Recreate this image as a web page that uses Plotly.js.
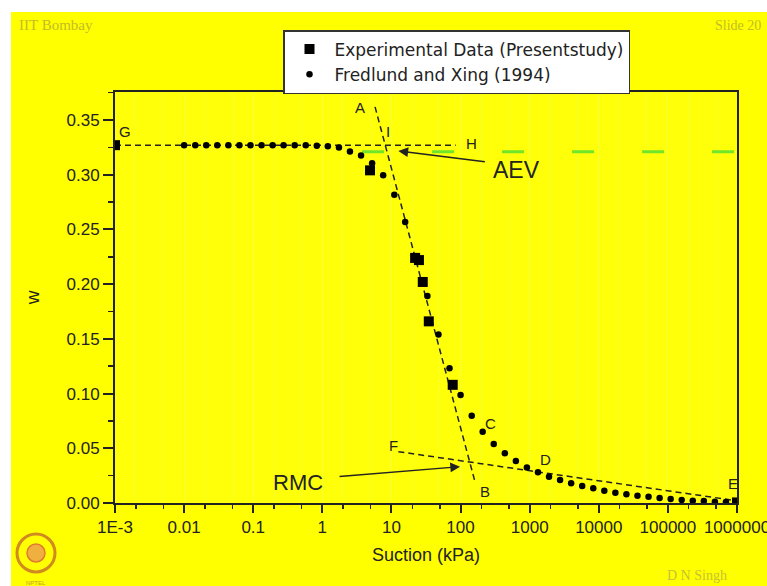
<!DOCTYPE html>
<html>
<head>
<meta charset="utf-8">
<script src="https://cdn.plot.ly/plotly-3.0.1.min.js"></script>
<style>
  html, body { margin:0; padding:0; background:#ffffff; width:767px; height:586px; overflow:hidden; }
  #chart { position:absolute; left:11px; top:12px; width:756px; height:574px; }
</style>
</head>
<body>
<div id="chart"></div>
<script>
// ---- data ----
const fredX = [0.01,0.0145,0.0209,0.0302,0.0437,0.0631,0.0912,0.132,0.191,0.275,0.398,0.575,0.832,1.20,1.74,2.51,3.63,5.25,7.59,11.0,15.8,22.9,33.1,47.9,69.2,100,145,209,302,437,631,912,1318,1905,2754,3981,5754,8318,12023,17378,25119,36308,52481,75858,109648,158489,229087,331131,478630,691831,1000000];
const fredW = [0.327,0.327,0.327,0.327,0.327,0.327,0.327,0.327,0.327,0.327,0.327,0.327,0.3265,0.326,0.3248,0.3213,0.3175,0.3105,0.2995,0.2818,0.2569,0.225,0.1892,0.154,0.1231,0.0987,0.0798,0.0652,0.0539,0.0454,0.0384,0.0325,0.0281,0.0240,0.0210,0.0180,0.0155,0.0134,0.0112,0.0094,0.0080,0.0067,0.0058,0.0046,0.0037,0.0027,0.0021,0.0018,0.0012,0.0009,0.0003];
const expX = [0.001, 4.9, 22, 25, 28.4, 34.7, 77, 1000000];
const expW = [0.327, 0.304, 0.224, 0.222, 0.202, 0.166, 0.108, 0.0005];
// construction lines
const ghX = [0.001, 85],      ghW = [0.327, 0.327];
const abX = [5.79, 162],      abW = [0.362, 0.0192];
const feX = [12.6, 1000000],  feW = [0.0469, 0.002];
const aevX = [3.76, 1000000], aevW = [0.321, 0.321];
const tickVals = [0.001,0.01,0.1,1,10,100,1000,10000,100000,1000000];
const tickText = ["1E-3","0.01","0.1","1","10","100","1000","10000","100000","1000000"];
const pointLabels = ["G","A","I","H","C","D","E","B","F"];
const pointLabelX = [-2.855, 0.546, 0.955, 2.162, 2.427, 3.223, 5.94, 2.355, 1.027];
const pointLabelW = [0.3394, 0.361, 0.3394, 0.3288, 0.0729, 0.0399, 0.018, 0.0103, 0.053];

const FONT = 'Liberation Sans, Arial, sans-serif';
const INK = '#222222';

const traces = [
  {x: aevX, y: aevW, mode:'lines', line:{color:'#6fe62a', width:3, dash:'22px,48px'}, showlegend:false, hoverinfo:'skip'},
  {x: ghX, y: ghW, mode:'lines', line:{color:INK, width:1.5, dash:'6px,4px'}, showlegend:false, hoverinfo:'skip'},
  {x: abX, y: abW, mode:'lines', line:{color:INK, width:1.5, dash:'6px,4px'}, showlegend:false, hoverinfo:'skip'},
  {x: feX, y: feW, mode:'lines', line:{color:INK, width:1.5, dash:'6px,4px'}, showlegend:false, hoverinfo:'skip'},
  {x: expX, y: expW, mode:'markers', name:'Experimental Data (Presentstudy)',
   marker:{symbol:'square', size:10, color:'#000'}},
  {x: fredX, y: fredW, mode:'markers', name:'Fredlund and Xing (1994)',
   marker:{symbol:'circle', size:6.5, color:'#000'}}
];

const annotations = [];
for (let i = 0; i < pointLabels.length; i++) {
  annotations.push({x: pointLabelX[i], y: pointLabelW[i], xref:'x', yref:'y', text: pointLabels[i],
    showarrow:false, font:{family:FONT, size:15, color:INK}});
}
annotations.push({x: 2.813, y: 0.3044, xref:'x', yref:'y', text:'AEV', showarrow:false,
  font:{family:FONT, size:23, color:INK}});
annotations.push({x: -0.359, y: 0.0183, xref:'x', yref:'y', text:'RMC', showarrow:false,
  font:{family:FONT, size:22, color:INK}});
// arrows
annotations.push({x: 1.10, y: 0.3217, xref:'x', yref:'y', text:'', showarrow:true,
  ax: 88, ay: 11, arrowhead:2, arrowsize:1.3, arrowwidth:1.5, arrowcolor:INK});
annotations.push({x: 1.993, y: 0.0332, xref:'x', yref:'y', text:'', showarrow:true,
  ax: -122, ay: 10, arrowhead:2, arrowsize:1.3, arrowwidth:1.5, arrowcolor:INK});
// slide decorations
annotations.push({xref:'paper', yref:'paper', x:(6-104)/622, y:1+(80-13)/411, xanchor:'left', yanchor:'middle',
  text:'IIT Bombay', showarrow:false, font:{family:'Liberation Serif, serif', size:15, color:'#c4bc28'}});
annotations.push({xref:'paper', yref:'paper', x:(752-104)/622, y:1+(80-13)/411, xanchor:'right', yanchor:'middle',
  text:'Slide 20', showarrow:false, font:{family:'Liberation Serif, serif', size:14, color:'#c4bc28'}});
annotations.push({xref:'paper', yref:'paper', x:(654-104)/622, y:(491-563)/411, xanchor:'left', yanchor:'middle',
  text:'D N Singh', showarrow:false, font:{family:'Liberation Serif, serif', size:14, color:'#c8c238'}});
annotations.push({xref:'paper', yref:'paper', x:(25-104)/622, y:(491-571)/411, xanchor:'center', yanchor:'middle',
  text:'NPTEL', showarrow:false, font:{family:FONT, size:6, color:'#c8a030'}});

const shapes = [
  {type:'circle', xref:'paper', yref:'paper', x0:(6-104)/622, x1:(44-104)/622, y0:(491-560)/411, y1:(491-522)/411,
   line:{color:'#d08a20', width:3}, fillcolor:'rgba(0,0,0,0)'},
  {type:'circle', xref:'paper', yref:'paper', x0:(16-104)/622, x1:(34-104)/622, y0:(491-550)/411, y1:(491-532)/411,
   line:{color:'#e07a30', width:1.5}, fillcolor:'#f0b040'}
];

const layout = {
  width: 756, height: 574,
  margin: {l:104, r:30, t:80, b:83},
  paper_bgcolor: '#ffff00',
  plot_bgcolor: '#ffff0a',
  font: {family: FONT, color: INK},
  showlegend: true,
  legend: {x:(272-104)/622, y:1+(80-18)/411, xanchor:'left', yanchor:'top',
    bgcolor:'#ffffff', bordercolor:'#333', borderwidth:1.5,
    font:{family:'DejaVu Sans, sans-serif', size:17, color:INK}, tracegroupgap:0, itemwidth:40},
  xaxis: {
    type:'log', range:[-3, 6], tickvals: tickVals, ticktext: tickText,
    ticks:'outside', ticklen:8, tickwidth:2, tickcolor:INK,
    ticklabeloverflow:'allow',
    showline:true, linewidth:2, linecolor:INK, mirror:true,
    showgrid:true, gridcolor:'#f2ff3a', gridwidth:1,
    minor:{ticks:'outside', ticklen:4, tickwidth:1.5, tickcolor:INK, showgrid:true, gridcolor:'#f6ff2a'},
    tickfont:{family:FONT, size:17, color:INK},
    title:{text:'Suction (kPa)', font:{family:FONT, size:18, color:INK}, standoff:12},
    zeroline:false
  },
  yaxis: {
    range:[0, 0.3756], dtick:0.05, tick0:0, tickformat:'.2f',
    ticks:'outside', ticklen:10, tickwidth:2, tickcolor:INK,
    minor:{dtick:0.025, ticks:'outside', ticklen:5, tickwidth:1.5, tickcolor:INK, showgrid:false},
    showline:true, linewidth:2, linecolor:INK, mirror:true,
    showgrid:false, zeroline:false,
    tickfont:{family:FONT, size:17, color:INK},
    title:{text:'w', font:{family:FONT, size:19, color:INK}, standoff:22}
  },
  annotations: annotations,
  shapes: shapes
};

Plotly.newPlot('chart', traces, layout, {displayModeBar:false, staticPlot:true});
</script>
</body>
</html>
